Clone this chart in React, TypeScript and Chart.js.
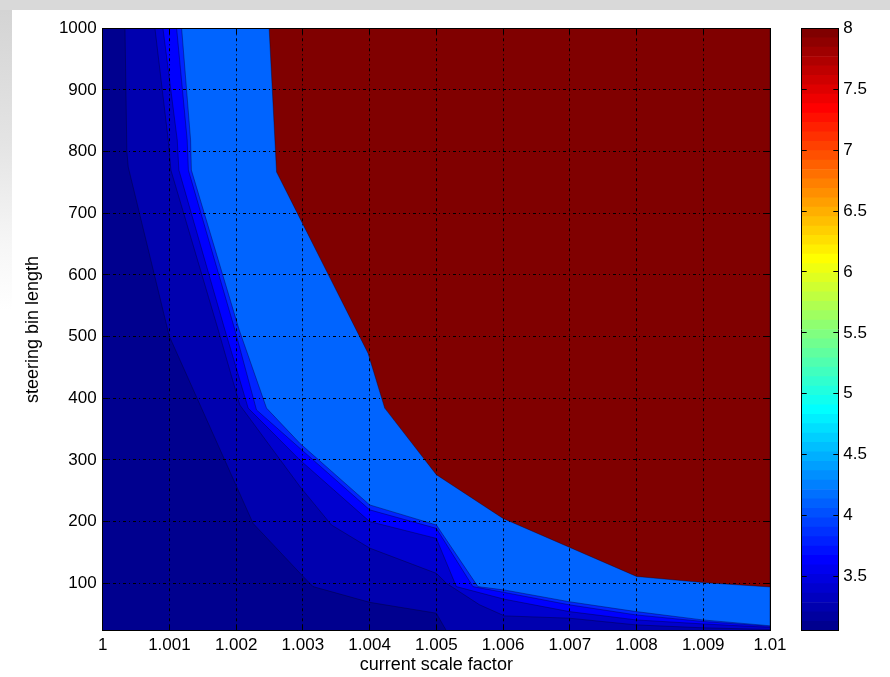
import React, { useEffect, useRef } from "react";
import { Chart, registerables } from "chart.js";

Chart.register(...registerables);

// ---- axis ranges ----
const X_MIN = 1;
const X_MAX = 1.01;
const Y_MIN = 23;
const Y_MAX = 1000;
const C_MIN = 3.055;
const C_MAX = 8;

// ---- tick values / labels ----
const xTickValues = [1, 1.001, 1.002, 1.003, 1.004, 1.005, 1.006, 1.007, 1.008, 1.009, 1.01];
const xTickLabels = ["1", "1.001", "1.002", "1.003", "1.004", "1.005", "1.006", "1.007", "1.008", "1.009", "1.01"];
const yTickValues = [100, 200, 300, 400, 500, 600, 700, 800, 900, 1000];
const cbarTickValues = [3.5, 4, 4.5, 5, 5.5, 6, 6.5, 7, 7.5, 8];
const cbarTickLabels = ["3.5", "4", "4.5", "5", "5.5", "6", "6.5", "7", "7.5", "8"];

// ---- filled contour levels (lowest first) ----
const levelColors = ["#00008F", "#0000AF", "#0000CF", "#0000FF", "#0024FF", "#0064FF", "#800000"];

// contour boundaries (each separates level k from level k+1), traced top -> bottom/right
const boundary1X = [1.000334, 1.000362, 1.000383, 1.000997, 1.002254, 1.003003, 1.003153, 1.004001, 1.005, 1.00515];
const boundary1Y = [1000, 801, 775, 501, 197, 111, 94.5, 69, 51.4, 23];

const boundary2X = [1.000783, 1.000982, 1.001022, 1.001731, 1.002055, 1.002954, 1.003428, 1.004001, 1.005, 1.00515, 1.005648, 1.006022, 1.006991, 1.007994, 1.008991, 1.01];
const boundary2Y = [1000, 819, 770, 511, 389, 257, 194.5, 157, 116, 100, 65, 47, 43.3, 32.4, 27.7, 25];

const boundary3X = [1.000903, 1.001117, 1.001142, 1.001831, 1.00218, 1.002954, 1.004001, 1.005, 1.0053, 1.006022, 1.006991, 1.007994, 1.008991, 1.01];
const boundary3Y = [1000, 819, 770, 511, 384, 300, 200, 172.7, 94.5, 74, 54, 40.5, 34, 28.4];

const boundary4X = [1.001108, 1.001266, 1.001284, 1.001981, 1.002305, 1.002954, 1.004001, 1.005, 1.005548, 1.006022, 1.006991, 1.007994, 1.008991, 1.01];
const boundary4Y = [1000, 819, 770, 511, 381, 319, 219, 189, 94.5, 85, 65, 48.6, 38, 30];

const boundary5X = [1.001183, 1.001317, 1.001329, 1.002045, 1.002455, 1.002954, 1.004001, 1.005, 1.005623, 1.006022, 1.006991, 1.007994, 1.008991, 1.01];
const boundary5Y = [1000, 819, 770, 511, 384, 327, 227, 194.5, 94.5, 89, 70, 54, 40.5, 31];

const boundary6X = [1.002494, 1.002605, 1.003976, 1.004226, 1.005, 1.006, 1.008, 1.009, 1.01];
const boundary6Y = [1000, 767, 473, 384, 276, 205, 111, 101, 94];

const boundaries = [
  [boundary1X, boundary1Y],
  [boundary2X, boundary2Y],
  [boundary3X, boundary3Y],
  [boundary4X, boundary4Y],
  [boundary5X, boundary5Y],
  [boundary6X, boundary6Y],
];

// ---- styling ----
const FONT = "'Liberation Sans', Arial, Helvetica, sans-serif";
const tickFont = { family: FONT, size: 17 };
const titleFont = { family: FONT, size: 18 };
const GRID_DASH = [3, 3, 1, 3];

// MATLAB jet(64) colormap
function jetColormap(m: number): string[] {
  const n = Math.ceil(m / 4);
  const u: number[] = [];
  for (let i = 1; i <= n; i++) u.push(i / n);
  for (let i = 0; i < n - 1; i++) u.push(1);
  for (let i = n; i >= 1; i--) u.push(i / n);
  const gStart = Math.ceil(n / 2) - (m % 4 === 1 ? 1 : 0) + 1; // 1-based
  const rgb = Array.from({ length: m }, () => [0, 0, 0]);
  for (let k = 0; k < u.length; k++) {
    const g = gStart + k;
    const r = g + n;
    const b = g - n;
    if (g >= 1 && g <= m) rgb[g - 1][1] = u[k];
    if (r >= 1 && r <= m) rgb[r - 1][0] = u[k];
    if (b >= 1 && b <= m) rgb[b - 1][2] = u[k];
  }
  return rgb.map(([r, g, b]) => `rgb(${Math.round(r * 255)},${Math.round(g * 255)},${Math.round(b * 255)})`);
}

function labelFor(values: number[], labels: string[], v: number): string {
  const i = values.findIndex((t) => Math.abs(t - v) < 1e-9);
  return i >= 0 ? labels[i] : "";
}

function buildMainDatasets() {
  const list: any[] = [];
  list.push({
    data: [
      { x: X_MIN, y: Y_MIN },
      { x: X_MAX, y: Y_MIN },
      { x: X_MAX, y: Y_MAX },
      { x: X_MIN, y: Y_MAX },
    ],
    backgroundColor: levelColors[0],
    borderWidth: 0,
    fill: "shape",
    pointRadius: 0,
    pointHitRadius: 0,
    tension: 0,
  });
  boundaries.forEach(([bx, by], i) => {
    const pts = bx.map((x, j) => ({ x, y: by[j] }));
    const last = pts[pts.length - 1];
    if (last.x < X_MAX) pts.push({ x: X_MAX, y: Y_MIN });
    pts.push({ x: X_MAX, y: Y_MAX });
    list.push({
      data: pts,
      backgroundColor: levelColors[i + 1],
      borderColor: "rgba(0,0,30,0.45)",
      borderWidth: 0.8,
      fill: "shape",
      pointRadius: 0,
      pointHitRadius: 0,
      tension: 0,
    });
  });
  // Chart.js paints the last dataset first: reverse so the lowest level is at the bottom
  return list.reverse();
}

function innerTickGrid(len: number, onArea: boolean) {
  return {
    display: true,
    z: 1,
    drawOnChartArea: onArea,
    drawTicks: true,
    color: "#000",
    lineWidth: 1,
    tickLength: -len,
    tickColor: "#000",
    tickWidth: 1,
    tickBorderDash: [],
  };
}

const noSidePadding = (s: any) => {
  s.paddingLeft = 0;
  s.paddingRight = 0;
};

export default function App() {
  const mainRef = useRef<HTMLCanvasElement>(null);
  const cbarRef = useRef<HTMLCanvasElement>(null);

  useEffect(() => {
    const setX = (s: any) => {
      s.ticks = xTickValues.map((v) => ({ value: v }));
    };
    const setY = (s: any) => {
      s.ticks = yTickValues.map((v) => ({ value: v }));
    };
    const setC = (s: any) => {
      s.ticks = cbarTickValues.map((v) => ({ value: v }));
    };

    const main = new Chart(mainRef.current as HTMLCanvasElement, {
      type: "line",
      data: { datasets: buildMainDatasets() },
      options: {
        responsive: false,
        maintainAspectRatio: false,
        animation: false,
        devicePixelRatio: 1,
        events: [],
        layout: { padding: { left: 0, top: 28.3, right: 20, bottom: 0 } },
        plugins: { legend: { display: false }, tooltip: { enabled: false } },
        scales: {
          x: {
            type: "linear",
            position: "bottom",
            min: X_MIN,
            max: X_MAX,
            afterBuildTicks: setX,
            afterFit: (s: any) => {
              s.height = 46.3;
              noSidePadding(s);
            },
            ticks: {
              z: 1,
              autoSkip: false,
              maxRotation: 0,
              padding: 10.7,
              color: "#000",
              font: tickFont,
              callback: (v: any) => labelFor(xTickValues, xTickLabels, Number(v)),
            },
            grid: innerTickGrid(6, true),
            border: { display: true, z: 1, color: "#000", width: 1, dash: GRID_DASH },
            title: {
              display: true,
              text: "current scale factor",
              color: "#000",
              font: titleFont,
              padding: { top: 0, bottom: 1.2 },
            },
          },
          x2: {
            type: "linear",
            position: "top",
            min: X_MIN,
            max: X_MAX,
            afterBuildTicks: setX,
            afterFit: (s: any) => {
              s.height = 0;
              noSidePadding(s);
            },
            ticks: { display: false },
            grid: innerTickGrid(6, false),
            border: { display: true, z: 1, color: "#000", width: 1 },
          },
          y: {
            type: "linear",
            position: "left",
            min: Y_MIN,
            max: Y_MAX,
            afterBuildTicks: setY,
            afterFit: (s: any) => {
              s.width = 102.7;
            },
            ticks: {
              z: 1,
              padding: 12,
              color: "#000",
              font: tickFont,
              callback: (v: any) => String(v),
            },
            grid: innerTickGrid(6, true),
            border: { display: true, z: 1, color: "#000", width: 1, dash: GRID_DASH },
            title: {
              display: true,
              text: "steering bin length",
              color: "#000",
              font: titleFont,
              padding: { top: 22.2, bottom: 0 },
            },
          },
          y2: {
            type: "linear",
            position: "right",
            min: Y_MIN,
            max: Y_MAX,
            afterBuildTicks: setY,
            afterFit: (s: any) => {
              s.width = 0;
            },
            ticks: { display: false },
            grid: innerTickGrid(6, false),
            border: { display: true, z: 1, color: "#000", width: 1 },
          },
        },
      } as any,
    });

    const cmap = jetColormap(64);
    const step = (C_MAX - C_MIN) / cmap.length;
    const cbar = new Chart(cbarRef.current as HTMLCanvasElement, {
      type: "bar",
      data: {
        labels: [""],
        datasets: cmap.map((c, i) => ({
          data: [[C_MIN + i * step, C_MIN + (i + 1) * step]],
          backgroundColor: c,
          borderWidth: 0,
          grouped: false,
          barPercentage: 1,
          categoryPercentage: 1,
        })) as any,
      },
      options: {
        responsive: false,
        maintainAspectRatio: false,
        animation: false,
        devicePixelRatio: 1,
        events: [],
        layout: { padding: { left: 11.7, top: 28.3, right: 0, bottom: 46.3 } },
        plugins: { legend: { display: false }, tooltip: { enabled: false } },
        scales: {
          x: {
            type: "category",
            position: "bottom",
            afterFit: (s: any) => {
              s.height = 0;
              noSidePadding(s);
            },
            ticks: { display: false },
            grid: { display: false },
            border: { display: true, z: 1, color: "#000", width: 1 },
          },
          x2: {
            type: "category",
            position: "top",
            afterFit: (s: any) => {
              s.height = 0;
              noSidePadding(s);
            },
            ticks: { display: false },
            grid: { display: false },
            border: { display: true, z: 1, color: "#000", width: 1 },
          },
          y: {
            type: "linear",
            position: "left",
            min: C_MIN,
            max: C_MAX,
            afterBuildTicks: setC,
            afterFit: (s: any) => {
              s.width = 0;
            },
            ticks: { display: false },
            grid: innerTickGrid(5, false),
            border: { display: true, z: 1, color: "#000", width: 1 },
          },
          y1: {
            type: "linear",
            position: "right",
            min: C_MIN,
            max: C_MAX,
            afterBuildTicks: setC,
            afterFit: (s: any) => {
              s.width = 51.7;
            },
            ticks: {
              z: 1,
              padding: 10,
              color: "#000",
              font: tickFont,
              callback: (v: any) => labelFor(cbarTickValues, cbarTickLabels, Number(v)),
            },
            grid: innerTickGrid(5, false),
            border: { display: true, z: 1, color: "#000", width: 1 },
          },
        },
      } as any,
    });

    return () => {
      main.destroy();
      cbar.destroy();
    };
  }, []);

  return (
    <div
      style={{
        position: "fixed",
        left: 0,
        top: 0,
        width: 890,
        height: 677,
        background: "#ffffff",
        overflow: "hidden",
      }}
    >
      <div style={{ position: "absolute", left: 0, top: 0, width: 890, height: 10, background: "#d9d9d9" }} />
      <div
        style={{
          position: "absolute",
          left: 0,
          top: 10,
          width: 12,
          height: 667,
          background: "linear-gradient(to bottom, #d4d4d4 0%, #e4e4e4 20%, #f6f6f6 35%, #ffffff 45%)",
        }}
      />
      <canvas
        ref={mainRef}
        width={790}
        height={677}
        style={{ position: "absolute", left: 0, top: 0, width: 790, height: 677 }}
      />
      <canvas
        ref={cbarRef}
        width={100}
        height={677}
        style={{ position: "absolute", left: 790, top: 0, width: 100, height: 677 }}
      />
    </div>
  );
}
